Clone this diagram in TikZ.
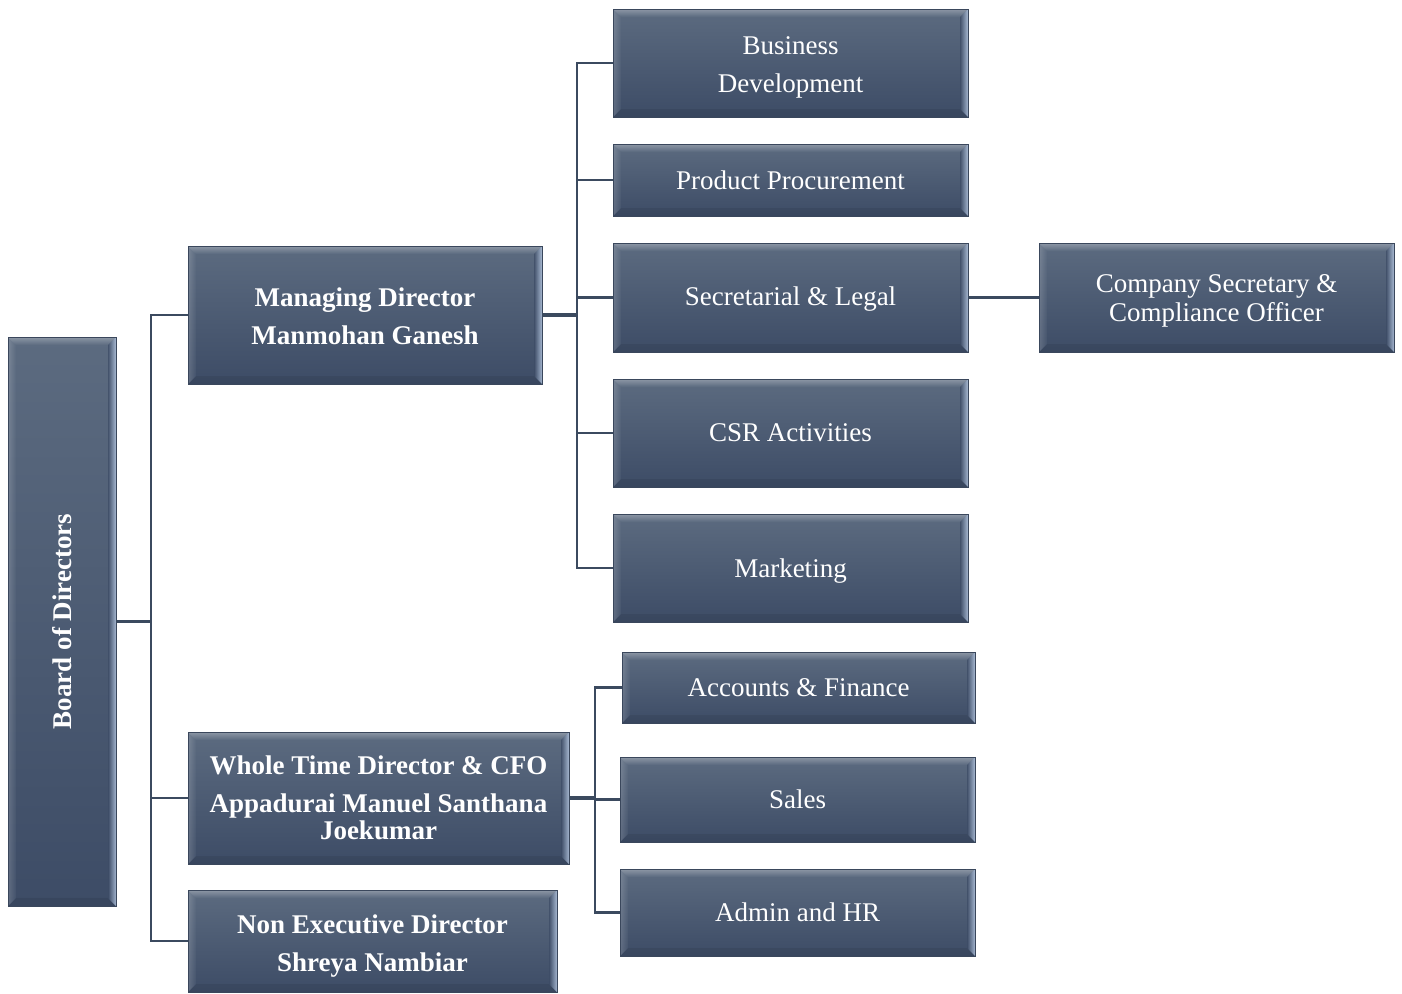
\documentclass[tikz,border=0pt]{standalone}
\usepackage{fontspec}
\setmainfont{Liberation Serif}
\definecolor{boxtop}{HTML}{5C6B80}
\definecolor{boxbot}{HTML}{3D4C66}
\definecolor{boxedge}{HTML}{3A475C}
\definecolor{lineclr}{HTML}{3B4A5F}
\definecolor{hilite}{HTML}{C4D6F0}
\tikzset{
  orgbox/.style={draw=boxedge, line width=0.8pt, top color=boxtop, bottom color=boxbot,
    text=white, align=center, inner sep=0pt,
    font=\fontsize{27}{38}\selectfont,
    path picture={
      \path (path picture bounding box.north west) coordinate (@nw)
            (path picture bounding box.north east) coordinate (@ne)
            (path picture bounding box.south west) coordinate (@sw)
            (path picture bounding box.south east) coordinate (@se);
      \shade[top color=white, bottom color=boxtop, opacity=0.3] (@nw) -- (@ne) -- ([shift={(-8pt,-8pt)}]@ne) -- ([shift={(8pt,-8pt)}]@nw) -- cycle;
      \shade[left color=white, right color=boxtop, opacity=0.18] (@nw) -- ([shift={(8pt,-8pt)}]@nw) -- ([shift={(8pt,8pt)}]@sw) -- (@sw) -- cycle;
      \fill[black, opacity=0.07] (@sw) -- ([shift={(8pt,8pt)}]@sw) -- ([shift={(-8pt,8pt)}]@se) -- (@se) -- cycle;
      \shade[left color=boxbot, right color=hilite, opacity=0.75] (@ne) -- (@se) -- ([shift={(-8pt,8pt)}]@se) -- ([shift={(-8pt,-8pt)}]@ne) -- cycle;
    }},
  tdrop/.style={execute at begin node={\rule{0pt}{#1}}},
  bossbox/.style={orgbox, font=\fontsize{27}{38}\selectfont\bfseries},
  conn/.style={draw=lineclr, line width=2.5pt},
  thickconn/.style={draw=lineclr, line width=3.5pt}
}
\begin{document}
\begin{tikzpicture}[x=1pt,y=-1pt]
\useasboundingbox (0,0) rectangle (1402,993);

% Board
\node[orgbox, minimum width=108pt, minimum height=569pt] (board) at (62,621.5) {};
\node[rotate=90, text=white, font=\fontsize{27}{30}\selectfont\bfseries] (boardtxt) at (board.center) {Board of Directors};

% Directors
\node[bossbox, tdrop=59pt, minimum width=354pt, minimum height=138pt] (md) at (365,315) {Managing Director\\Manmohan Ganesh};
\node[bossbox, minimum width=381pt, minimum height=132pt] (wtd) at (378.5,798) {Whole Time Director \& CFO\\Appadurai Manuel Santhana\\[-11pt]Joekumar};
\node[bossbox, tdrop=67pt, minimum width=369pt, minimum height=102pt] (ned) at (372.5,941) {Non Executive Director\\Shreya Nambiar};

% MD departments
\node[orgbox, tdrop=65pt, minimum width=355pt, minimum height=108pt] (bd) at (790.5,63) {Business\\Development};
\node[orgbox, minimum width=355pt, minimum height=72pt] (pp) at (790.5,180) {Product Procurement};
\node[orgbox, tdrop=22.5pt, minimum width=355pt, minimum height=109pt] (sl) at (790.5,297.5) {Secretarial \& Legal};
\node[orgbox, minimum width=355pt, minimum height=108pt] (csr) at (790.5,433) {CSR Activities};
\node[orgbox, tdrop=24pt, minimum width=355pt, minimum height=108pt] (mkt) at (790.5,568) {Marketing};
\node[orgbox, tdrop=54pt, minimum width=355pt, minimum height=109pt, font=\fontsize{27}{29}\selectfont] (cs) at (1216.5,297.5) {Company Secretary \&\\Compliance Officer};

% WTD departments
\node[orgbox, minimum width=353pt, minimum height=71pt] (af) at (798.5,687.5) {Accounts \& Finance};
\node[orgbox, minimum width=355pt, minimum height=85pt] (sales) at (797.5,799.5) {Sales};
\node[orgbox, minimum width=355pt, minimum height=87pt] (hr) at (797.5,912.5) {Admin and HR};

% Connectors
\coordinate (t1) at (151,621.5);
\coordinate (t2) at (577,315);
\coordinate (t3) at (595,798);

\draw[conn] (board.east) -- (t1);
\draw[conn] (t1) |- (md.west);
\draw[conn] (t1) |- (wtd.west);
\draw[conn] (t1) |- (ned.west);

\draw[thickconn] (md.east) -- (t2);
\draw[conn] (t2) |- (bd.west);
\draw[conn] (t2) |- (pp.west);
\draw[conn] (t2) |- (sl.west);
\draw[conn] (t2) |- (csr.west);
\draw[conn] (t2) |- (mkt.west);

\draw[conn] (sl.east) -- (cs.west);

\draw[thickconn] (wtd.east) -- (t3);
\draw[conn] (t3) |- (af.west);
\draw[conn] (t3) |- (sales.west);
\draw[conn] (t3) |- (hr.west);
\end{tikzpicture}
\end{document}
